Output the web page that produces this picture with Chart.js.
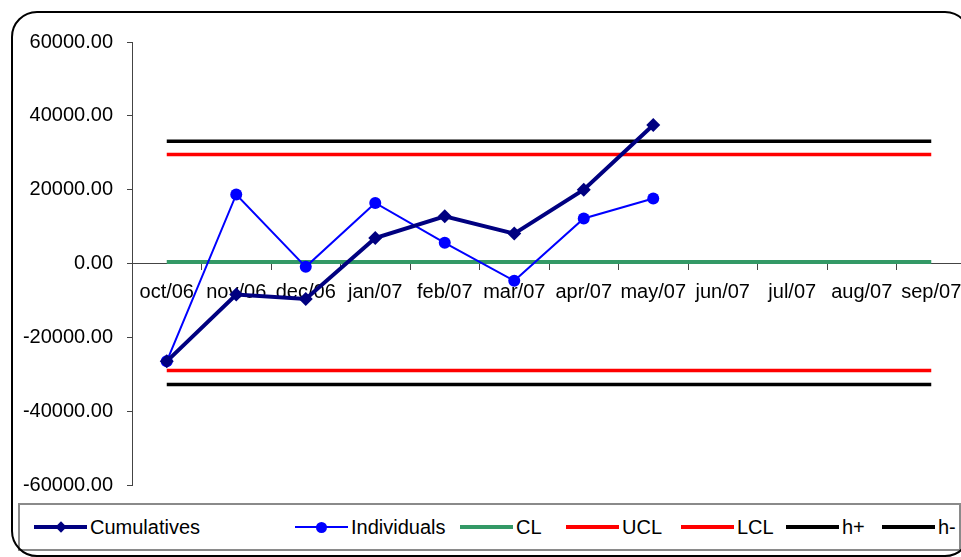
<!DOCTYPE html>
<html>
<head>
<meta charset="utf-8">
<script src="https://cdn.jsdelivr.net/npm/chart.js@4.4.1/dist/chart.umd.min.js"></script>
<style>
  html, body { margin: 0; padding: 0; width: 961px; height: 557px; overflow: hidden; background: #fff; }
  #wrap { position: absolute; left: 0; top: 0; width: 990px; height: 511px; }
  #frame { position: absolute; left: 11px; top: 11px; width: 956px; height: 542px;
           border: 2px solid #000; border-radius: 26px; pointer-events: none; }
  #legend { position: absolute; left: 18px; top: 503px; width: 939px; height: 44px;
            border: 2px solid #8a8a8a; background: #fff; font-family: "Liberation Sans", Arial, sans-serif; font-size: 20px; }
  .item { position: absolute; top: 0; height: 44px; display: flex; align-items: center; white-space: nowrap; }
  .sample { position: relative; width: 53px; height: 14px; margin-right: 3px; }
  .sample .ln { position: absolute; left: 0; right: 0; top: 50%; }
  .sample .mk { position: absolute; left: 50%; top: 50%; }
</style>
</head>
<body>
<div id="wrap"><canvas id="spc" width="990" height="511"></canvas></div>
<div id="legend"></div>
<div id="frame"></div>
<script>
// months on the x axis
const months = ["oct/06", "nov/06", "dec/06", "jan/07", "feb/07", "mar/07",
                "apr/07", "may/07", "jun/07", "jul/07", "aug/07", "sep/07"];

// series
const cumulatives = [-26500, -8400, -9600, 6900, 12800, 8100, 20000, 37500, null, null, null, null];
const individuals = [-26500, 18700, -900, 16400, 5600, -4700, 12200, 17600, null, null, null, null];
const clLine  = [400, 400, 400, 400, 400, 400, 400, 400, 400, 400, 400, 400];
const uclLine = [29500, 29500, 29500, 29500, 29500, 29500, 29500, 29500, 29500, 29500, 29500, 29500];
const lclLine = [-29000, -29000, -29000, -29000, -29000, -29000, -29000, -29000, -29000, -29000, -29000, -29000];
const hPlus   = [33100, 33100, 33100, 33100, 33100, 33100, 33100, 33100, 33100, 33100, 33100, 33100];
const hMinus  = [-32800, -32800, -32800, -32800, -32800, -32800, -32800, -32800, -32800, -32800, -32800, -32800];

// y axis ticks
const yMin = -60000, yMax = 60000, yStep = 20000;

const FONT = "'Liberation Sans', Arial, sans-serif";

function lineSet(label, data, color, width, marker, radius) {
  return {
    label: label, data: data,
    borderColor: color, backgroundColor: color,
    borderWidth: width,
    pointStyle: marker || 'circle',
    pointRadius: marker ? radius : 0,
    pointBorderWidth: 0,
    pointBackgroundColor: color,
    tension: 0, spanGaps: false
  };
}

const datasets = [
  lineSet("Cumulatives", cumulatives, "#000080", 4, "rectRot", 7),
  lineSet("Individuals", individuals, "#0000ff", 2, "circle", 6),
  lineSet("CL", clLine, "#339966", 4),
  lineSet("UCL", uclLine, "#ff0000", 3.5),
  lineSet("LCL", lclLine, "#ff0000", 3.5),
  lineSet("h+", hPlus, "#000000", 3.5),
  lineSet("h-", hMinus, "#000000", 3.5)
];

new Chart(document.getElementById('spc'), {
  type: 'line',
  data: { labels: months, datasets: datasets },
  options: {
    responsive: false,
    animation: false,
    layout: { padding: { top: 42, right: 24, bottom: 8, left: 0 } },
    plugins: { legend: { display: false }, tooltip: { enabled: false } },
    scales: {
      x: {
        position: { y: 0 },
        offset: true,
        grid: { offset: true, drawOnChartArea: false, tickLength: 6, color: '#444' },
        border: { color: '#444' },
        ticks: { autoSkip: false, maxRotation: 0, padding: 11, color: '#000', font: { family: FONT, size: 20 } }
      },
      y: {
        min: yMin, max: yMax,
        afterFit: function (s) { s.width = 132; },
        grid: { drawOnChartArea: false, tickLength: 5, color: '#444' },
        border: { color: '#444' },
        ticks: {
          stepSize: yStep, padding: 14, color: '#000',
          font: { family: FONT, size: 20 },
          callback: function (v) { return v.toFixed(2); }
        }
      }
    }
  }
});

// legend like the Excel one: line sample with marker, then the name
const legendX = [14, 275, 440, 546, 661, 766, 862];
const legend = document.getElementById('legend');
datasets.forEach(function (ds, i) {
  const item = document.createElement('div');
  item.className = 'item';
  item.style.left = legendX[i] + 'px';
  const sample = document.createElement('div');
  sample.className = 'sample';
  const ln = document.createElement('div');
  ln.className = 'ln';
  ln.style.height = ds.borderWidth + 'px';
  ln.style.marginTop = (-ds.borderWidth / 2) + 'px';
  ln.style.background = ds.borderColor;
  sample.appendChild(ln);
  if (ds.pointRadius > 0) {
    const mk = document.createElement('div');
    mk.className = 'mk';
    const s = ds.pointStyle === 'rectRot' ? 8 : 11;
    mk.style.width = s + 'px';
    mk.style.height = s + 'px';
    mk.style.marginLeft = (-s / 2) + 'px';
    mk.style.marginTop = (-s / 2) + 'px';
    mk.style.background = ds.borderColor;
    if (ds.pointStyle === 'rectRot') mk.style.transform = 'rotate(45deg)';
    else mk.style.borderRadius = '50%';
    sample.appendChild(mk);
  }
  item.appendChild(sample);
  const txt = document.createElement('span');
  txt.textContent = ds.label;
  item.appendChild(txt);
  legend.appendChild(item);
});
</script>
</body>
</html>
